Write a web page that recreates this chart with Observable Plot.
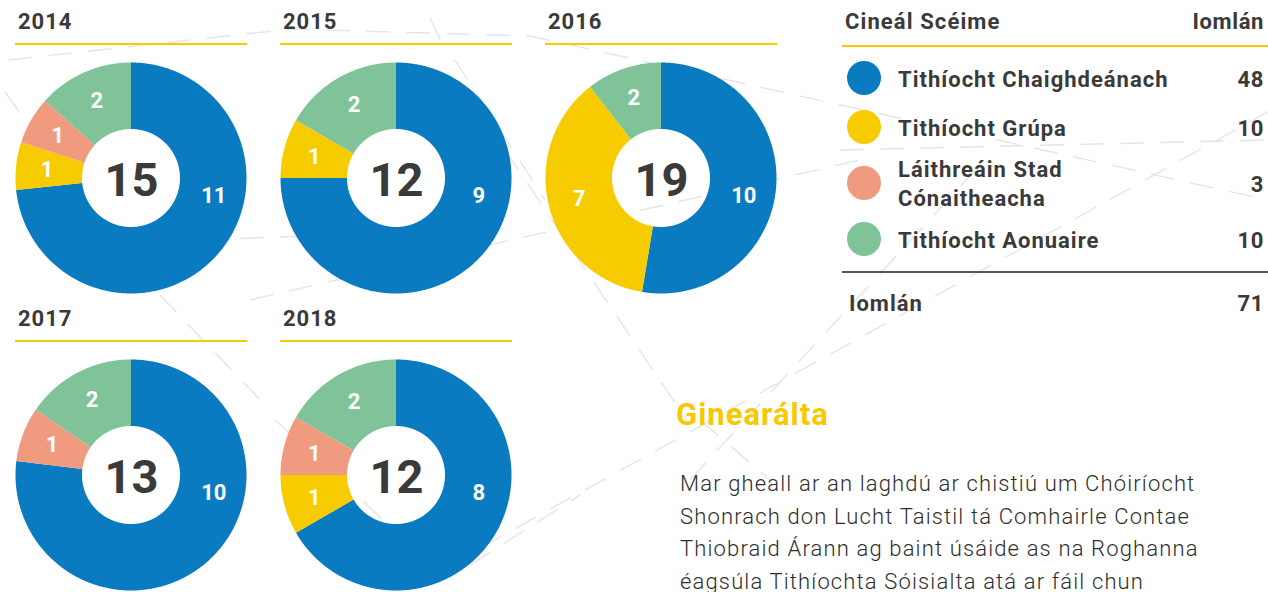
<!DOCTYPE html>
<html>
<head>
<meta charset="utf-8">
<script src="https://cdn.jsdelivr.net/npm/d3@7"></script>
<script src="https://cdn.jsdelivr.net/npm/@observablehq/plot@0.6"></script>
<style>
html, body { margin: 0; padding: 0; background: #fff; width: 1268px; height: 592px; overflow: hidden; font-family: Roboto, "Noto Sans", sans-serif; color: #3a3a3a; }
#bg { position: absolute; left: 0; top: 0; }
.block { position: absolute; width: 232px; height: 297px; }
.block .yr { position: absolute; left: 3px; top: 10.5px; font: 700 22px/22px Roboto, sans-serif; letter-spacing: 1px; color: #3a3a3a; }
.block .rule { position: absolute; left: 0; top: 43px; width: 232px; height: 2px; background: #F6CB00; }
.block .chart { position: absolute; left: 0; top: 62px; }
</style>
</head>
<body>
<svg id="bg" width="1268" height="592"></svg>
<div id="donuts"></div>
<script>
// ---- data ----
const years = ["2014", "2015", "2016", "2017", "2018"];
const categories = ["Tithíocht Chaighdeánach", "Tithíocht Grúpa", "Láithreáin Stad Cónaitheacha", "Tithíocht Aonuaire"];
const categoryLines = [["Tithíocht Chaighdeánach"], ["Tithíocht Grúpa"], ["Láithreáin Stad", "Cónaitheacha"], ["Tithíocht Aonuaire"]];
const colors = ["#0A7AC1", "#F6CB00", "#F09A80", "#80C399"];
const chaighdeanach = [11, 9, 10, 10, 8];
const grupa = [1, 1, 7, 0, 1];
const laithreain = [1, 0, 0, 1, 1];
const aonuaire = [2, 2, 2, 2, 2];
const series = [chaighdeanach, grupa, laithreain, aonuaire];
const tableHeader = ["Cineál Scéime", "Iomlán"];
const totalLabel = "Iomlán";
const sectionTitle = "Ginearálta";
const paragraphLines = [
  "Mar gheall ar an laghdú ar chistiú um Chóiríocht",
  "Shonrach don Lucht Taistil tá Comhairle Contae",
  "Thiobraid Árann ag baint úsáide as na Roghanna",
  "éagsúla Tithíochta Sóisialta atá ar fáil chun"
];

// ---- decorative background (dashed lines) ----
const decoLines = [
  [[8, 60], [290, 29], [530, 36], [1268, 200]],
  [[840, 150], [1268, 140]],
  [[480, 548], [1268, 112]],
  [[690, 480], [980, 165]],
  [[505, 150], [690, 425]],
  [[700, 420], [770, 480]],
  [[160, 295], [268, 408]],
  [[5, 92], [25, 120]],
  [[430, 18], [446, 52]],
  [[455, 60], [545, 200]],
  [[250, 300], [860, 160]],
  [[275, 420], [405, 540]],
  [[470, 565], [580, 495]],
  [[200, 240], [520, 228]]
];
const bg = d3.select("#bg");
const line = d3.line();
bg.append("g")
  .selectAll("path").data(decoLines).join("path")
  .attr("d", line)
  .attr("fill", "none")
  .attr("stroke", "#e6e6e6")
  .attr("stroke-width", 1.5)
  .attr("stroke-dasharray", "24 16");

// ---- legend table ----
const tg = bg.append("g").attr("font-family", "Roboto, sans-serif").attr("fill", "#3a3a3a").attr("font-weight", 700).attr("font-size", 22);
tg.append("text").attr("x", 845).attr("y", 29).attr("letter-spacing", 1.1).text(tableHeader[0]);
tg.append("text").attr("x", 1264).attr("y", 29).attr("text-anchor", "end").attr("letter-spacing", 0.6).text(tableHeader[1]);
tg.append("line").attr("x1", 842).attr("x2", 1268).attr("y1", 46).attr("y2", 46).attr("stroke", "#F6CB00").attr("stroke-width", 2);
const rowCenters = [78, 127, 183, 239];
const catTotals = series.map(s => d3.sum(s));
categories.forEach((c, k) => {
  const cy = rowCenters[k];
  tg.append("circle").attr("cx", 864).attr("cy", cy).attr("r", 17).attr("fill", colors[k]);
  const ls = categoryLines[k];
  const t = tg.append("text").attr("x", 898).attr("letter-spacing", 1);
  ls.forEach((s, j) => {
    t.append("tspan").attr("x", 898).attr("y", cy + 8.5 + (j - (ls.length - 1) / 2) * 29).text(s);
  });
  tg.append("text").attr("x", 1264).attr("y", cy + 8.5).attr("text-anchor", "end").attr("letter-spacing", 0.6).text(catTotals[k]);
});
tg.append("line").attr("x1", 842).attr("x2", 1268).attr("y1", 272).attr("y2", 272).attr("stroke", "#222").attr("stroke-width", 1.5);
tg.append("text").attr("x", 849).attr("y", 311).attr("letter-spacing", 1).text(totalLabel);
tg.append("text").attr("x", 1264).attr("y", 311).attr("text-anchor", "end").attr("letter-spacing", 0.6).text(d3.sum(catTotals));

// ---- text block ----
bg.append("text").attr("x", 676).attr("y", 425).attr("font-family", "Roboto, sans-serif").attr("font-weight", 700).attr("font-size", 31).attr("letter-spacing", 1).attr("fill", "#F6C900").text(sectionTitle);
const pg = bg.append("g").attr("font-family", "Roboto, sans-serif").attr("font-weight", 300).attr("font-size", 22).attr("letter-spacing", 1.15).attr("fill", "#2e2e2e");
paragraphLines.forEach((s, j) => pg.append("text").attr("x", 680).attr("y", 491 + j * 32.5).text(s));

// ---- donuts ----
const R_OUT = 115.5, R_IN = 49, R_LAB = 85;
function donut(i) {
  const rows = categories.map((c, k) => ({cat: c, value: series[k][i]}));
  const total = d3.sum(rows, d => d.value);
  const arcs = d3.pie().sort(null).value(d => d.value)(rows).filter(a => a.value > 0);
  const pts = [], labels = [];
  for (const a of arcs) {
    const span = a.endAngle - a.startAngle;
    const n = Math.max(2, Math.ceil(span / 0.01));
    for (let j = 0; j <= n; j++) {
      const t = a.startAngle + span * j / n;
      pts.push({cat: a.data.cat, x1: R_IN * Math.sin(t), y1: R_IN * Math.cos(t), x2: R_OUT * Math.sin(t), y2: R_OUT * Math.cos(t)});
    }
    const tl = span > Math.PI ? 1.775 : (a.startAngle + a.endAngle) / 2;
    const rl = span > Math.PI ? 84 : R_LAB;
    labels.push({v: a.value, x: rl * Math.sin(tl), y: rl * Math.cos(tl)});
  }
  return Plot.plot({
    width: 232, height: 232, margin: 0,
    x: {domain: [-116, 116], axis: null},
    y: {domain: [-116, 116], axis: null},
    color: {domain: categories, range: colors},
    style: {fontFamily: "Roboto, sans-serif", background: "transparent", overflow: "visible"},
    marks: [
      Plot.area(pts, {x1: "x1", y1: "y1", x2: "x2", y2: "y2", z: "cat", fill: "cat"}),
      Plot.text(labels, {x: "x", y: "y", text: "v", fill: "white", fontSize: 22, fontWeight: 700}),
      Plot.text([total], {frameAnchor: "middle", text: d => d, fill: "#3a3a3a", fontSize: 47, fontWeight: 700, dy: 2})
    ]
  });
}
const host = document.getElementById("donuts");
years.forEach((yr, i) => {
  const col = i % 3, row = Math.floor(i / 3);
  const block = document.createElement("div");
  block.className = "block";
  block.style.left = (15 + col * 265) + "px";
  block.style.top = (row * 297) + "px";
  const t = document.createElement("div"); t.className = "yr"; t.textContent = yr;
  const r = document.createElement("div"); r.className = "rule";
  const c = document.createElement("div"); c.className = "chart";
  c.appendChild(donut(i));
  block.append(t, r, c);
  host.appendChild(block);
});
</script>
</body>
</html>
